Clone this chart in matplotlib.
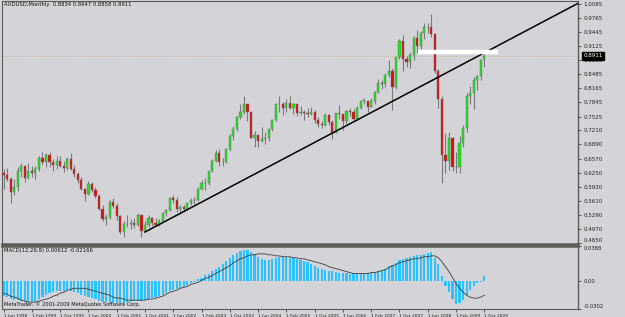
import numpy as np
import pandas as pd
import matplotlib.pyplot as plt

# AUDUSD monthly, Jun 1998 .. Oct 2009
months = pd.period_range("1998-06", "2009-10", freq="M")

opens = [0.6235, 0.6200, 0.6105, 0.5820, 0.5930, 0.6290, 0.6400,
         0.6130, 0.6290, 0.6250, 0.6330, 0.6580, 0.6500, 0.6640, 0.6490, 0.6420, 0.6520, 0.6410, 0.6350,
         0.6560, 0.6330, 0.6210, 0.6080, 0.5870, 0.5770, 0.5990, 0.5850, 0.5720, 0.5430, 0.5200, 0.5250,
         0.5580, 0.5490, 0.5260, 0.4890, 0.5080, 0.5090, 0.5100, 0.5060, 0.5290, 0.4930, 0.5070, 0.5210,
         0.5110, 0.5070, 0.5150, 0.5330, 0.5400, 0.5670, 0.5630, 0.5420, 0.5460, 0.5420, 0.5560, 0.5620,
         0.5630, 0.5880, 0.6010, 0.6020, 0.6280, 0.6520, 0.6700, 0.6500, 0.6490, 0.6790, 0.7080, 0.7250,
         0.7520, 0.7620, 0.7810, 0.7630, 0.7040, 0.7100, 0.6980, 0.7020, 0.7040, 0.7240, 0.7450, 0.7820,
         0.7800, 0.7720, 0.7840, 0.7720, 0.7800, 0.7600, 0.7630, 0.7600, 0.7590, 0.7630, 0.7440, 0.7360,
         0.7330, 0.7560, 0.7410, 0.7160, 0.7600, 0.7580, 0.7420, 0.7660, 0.7640, 0.7460, 0.7730, 0.7880,
         0.7890, 0.7750, 0.7880, 0.8090, 0.8290, 0.8260, 0.8480, 0.8560, 0.8190, 0.8870, 0.9250, 0.8840,
         0.8770, 0.8920, 0.9320, 0.9130, 0.9430, 0.9560, 0.9570, 0.9410, 0.8570, 0.7920, 0.6650, 0.6520,
         0.7030, 0.6370, 0.6380, 0.6920, 0.7260, 0.8000, 0.8060, 0.8360, 0.8450, 0.8834]
highs = [0.6330, 0.6345, 0.6140, 0.6100, 0.6380, 0.6460, 0.6420,
         0.6470, 0.6400, 0.6400, 0.6630, 0.6710, 0.6700, 0.6710, 0.6560, 0.6630, 0.6620, 0.6510, 0.6600,
         0.6690, 0.6430, 0.6260, 0.6140, 0.5910, 0.6050, 0.6030, 0.5930, 0.5770, 0.5520, 0.5300, 0.5620,
         0.5680, 0.5570, 0.5290, 0.5140, 0.5280, 0.5200, 0.5210, 0.5340, 0.5300, 0.5150, 0.5280, 0.5230,
         0.5220, 0.5190, 0.5350, 0.5420, 0.5690, 0.5750, 0.5700, 0.5520, 0.5520, 0.5580, 0.5680, 0.5700,
         0.5920, 0.6090, 0.6120, 0.6290, 0.6560, 0.6770, 0.6780, 0.6580, 0.6810, 0.7120, 0.7310, 0.7540,
         0.7800, 0.8000, 0.7820, 0.7650, 0.7200, 0.7110, 0.7290, 0.7170, 0.7250, 0.7480, 0.7830, 0.7990,
         0.7850, 0.7920, 0.7990, 0.7840, 0.7820, 0.7760, 0.7670, 0.7720, 0.7750, 0.7670, 0.7510, 0.7420,
         0.7610, 0.7580, 0.7440, 0.7610, 0.7790, 0.7590, 0.7680, 0.7720, 0.7690, 0.7760, 0.7900, 0.7940,
         0.7910, 0.7950, 0.8110, 0.8380, 0.8350, 0.8510, 0.8800, 0.8640, 0.8880, 0.9290, 0.9380, 0.8900,
         0.8990, 0.9350, 0.9500, 0.9480, 0.9650, 0.9660, 0.9850, 0.9420, 0.8600, 0.8000, 0.7140, 0.7170,
         0.7070, 0.6720, 0.7090, 0.7330, 0.8060, 0.8210, 0.8430, 0.8460, 0.8830, 0.8947]
lows = [0.5870, 0.6050, 0.5550, 0.5730, 0.5840, 0.6150, 0.6030,
        0.6110, 0.6160, 0.6100, 0.6290, 0.6420, 0.6370, 0.6380, 0.6290, 0.6340, 0.6380, 0.6270, 0.6310,
        0.6300, 0.6140, 0.6020, 0.5850, 0.5600, 0.5750, 0.5800, 0.5670, 0.5390, 0.5150, 0.5070, 0.5200,
        0.5450, 0.5180, 0.4850, 0.4775, 0.5010, 0.4970, 0.4980, 0.5040, 0.4776, 0.4900, 0.5020, 0.5030,
        0.5040, 0.5040, 0.5140, 0.5260, 0.5370, 0.5560, 0.5360, 0.5320, 0.5360, 0.5410, 0.5520, 0.5530,
        0.5600, 0.5850, 0.5860, 0.5980, 0.6260, 0.6500, 0.6400, 0.6400, 0.6470, 0.6750, 0.7000, 0.7200,
        0.7460, 0.7580, 0.7420, 0.7030, 0.6830, 0.6830, 0.6950, 0.6900, 0.6960, 0.7200, 0.7420, 0.7640,
        0.7560, 0.7620, 0.7690, 0.7590, 0.7530, 0.7550, 0.7450, 0.7510, 0.7550, 0.7390, 0.7290, 0.7260,
        0.7320, 0.7340, 0.7020, 0.7140, 0.7470, 0.7210, 0.7360, 0.7540, 0.7440, 0.7450, 0.7700, 0.7800,
        0.7620, 0.7750, 0.7810, 0.8050, 0.8150, 0.8190, 0.8420, 0.7670, 0.8150, 0.8830, 0.8550, 0.8650,
        0.8640, 0.8820, 0.8980, 0.9070, 0.9300, 0.9430, 0.9340, 0.8520, 0.7710, 0.6010, 0.6250, 0.6300,
        0.6280, 0.6250, 0.6250, 0.6830, 0.7180, 0.7810, 0.7700, 0.8130, 0.8360, 0.8658]
closes = [0.6200, 0.6105, 0.5820, 0.5930, 0.6290, 0.6400, 0.6130,
          0.6290, 0.6250, 0.6330, 0.6580, 0.6500, 0.6640, 0.6490, 0.6420, 0.6520, 0.6410, 0.6350, 0.6560,
          0.6330, 0.6210, 0.6080, 0.5870, 0.5770, 0.5990, 0.5850, 0.5720, 0.5430, 0.5200, 0.5250, 0.5580,
          0.5490, 0.5260, 0.4890, 0.5080, 0.5090, 0.5100, 0.5060, 0.5290, 0.4930, 0.5070, 0.5210, 0.5110,
          0.5070, 0.5150, 0.5330, 0.5400, 0.5670, 0.5630, 0.5420, 0.5460, 0.5420, 0.5560, 0.5620, 0.5630,
          0.5880, 0.6010, 0.6020, 0.6280, 0.6520, 0.6700, 0.6500, 0.6490, 0.6790, 0.7080, 0.7250, 0.7520,
          0.7620, 0.7810, 0.7630, 0.7040, 0.7100, 0.6980, 0.7020, 0.7040, 0.7240, 0.7450, 0.7820, 0.7800,
          0.7720, 0.7840, 0.7720, 0.7800, 0.7600, 0.7630, 0.7600, 0.7590, 0.7630, 0.7440, 0.7360, 0.7330,
          0.7560, 0.7410, 0.7160, 0.7600, 0.7580, 0.7420, 0.7660, 0.7640, 0.7460, 0.7730, 0.7880, 0.7890,
          0.7750, 0.7880, 0.8090, 0.8290, 0.8260, 0.8480, 0.8560, 0.8190, 0.8870, 0.9250, 0.8840, 0.8770,
          0.8920, 0.9320, 0.9130, 0.9430, 0.9560, 0.9570, 0.9410, 0.8570, 0.7920, 0.6650, 0.6520, 0.7030,
          0.6370, 0.6380, 0.6920, 0.7260, 0.8000, 0.8060, 0.8360, 0.8450, 0.8820, 0.8911]

# MACD(12,26,9): main (histogram) and signal
macd_main = [-0.0162, -0.0172, -0.0194, -0.0205, -0.0205, -0.0216, -0.0226, -0.0226, -0.0226, -0.0216,
             -0.0194, -0.0172, -0.0151, -0.0129, -0.0119, -0.0108, -0.0108, -0.0108, -0.0097, -0.0108,
             -0.0119, -0.0129, -0.0151, -0.0162, -0.0172, -0.0183, -0.0194, -0.0216, -0.0226, -0.0226,
             -0.0226, -0.0237, -0.0237, -0.0237, -0.0237, -0.0226, -0.0226, -0.0216, -0.0216, -0.0216,
             -0.0205, -0.0194, -0.0183, -0.0172, -0.0162, -0.0151, -0.0129, -0.0108, -0.0097, -0.0086,
             -0.0075, -0.0065, -0.0043, -0.0022, -0.0005, 0.0022, 0.0043, 0.0065, 0.0086, 0.0119,
             0.0140, 0.0162, 0.0194, 0.0226, 0.0259, 0.0291, 0.0313, 0.0334, 0.0345, 0.0345,
             0.0323, 0.0302, 0.0270, 0.0248, 0.0237, 0.0237, 0.0248, 0.0259, 0.0270, 0.0270,
             0.0270, 0.0259, 0.0259, 0.0248, 0.0237, 0.0226, 0.0216, 0.0194, 0.0172, 0.0151,
             0.0140, 0.0129, 0.0119, 0.0119, 0.0108, 0.0097, 0.0097, 0.0097, 0.0086, 0.0086,
             0.0086, 0.0086, 0.0086, 0.0097, 0.0097, 0.0108, 0.0119, 0.0129, 0.0140, 0.0172,
             0.0183, 0.0205, 0.0237, 0.0248, 0.0259, 0.0270, 0.0280, 0.0291, 0.0291, 0.0302,
             0.0313, 0.0323, 0.0259, 0.0194, 0.0054, -0.0054, -0.0119, -0.0194, -0.0248, -0.0237,
             -0.0205, -0.0151, -0.0097, -0.0054, -0.0022, -0.0011, 0.0061]
macd_signal = [-0.0129, -0.0140, -0.0162, -0.0172, -0.0183, -0.0205, -0.0216, -0.0226, -0.0226, -0.0226,
               -0.0216, -0.0205, -0.0194, -0.0183, -0.0162, -0.0151, -0.0129, -0.0119, -0.0097, -0.0086,
               -0.0075, -0.0075, -0.0075, -0.0075, -0.0086, -0.0097, -0.0108, -0.0119, -0.0129, -0.0140,
               -0.0151, -0.0172, -0.0183, -0.0183, -0.0194, -0.0205, -0.0205, -0.0205, -0.0205, -0.0205,
               -0.0205, -0.0194, -0.0194, -0.0183, -0.0172, -0.0162, -0.0140, -0.0119, -0.0108, -0.0097,
               -0.0075, -0.0065, -0.0054, -0.0032, -0.0022, -0.0011, 0.0011, 0.0032, 0.0043, 0.0065,
               0.0086, 0.0108, 0.0129, 0.0151, 0.0172, 0.0205, 0.0226, 0.0248, 0.0259, 0.0280,
               0.0291, 0.0291, 0.0302, 0.0302, 0.0302, 0.0291, 0.0291, 0.0280, 0.0280, 0.0270,
               0.0270, 0.0270, 0.0259, 0.0259, 0.0248, 0.0248, 0.0237, 0.0226, 0.0216, 0.0205,
               0.0194, 0.0183, 0.0162, 0.0151, 0.0140, 0.0129, 0.0119, 0.0108, 0.0097, 0.0086,
               0.0086, 0.0086, 0.0086, 0.0086, 0.0097, 0.0097, 0.0108, 0.0119, 0.0129, 0.0151,
               0.0172, 0.0183, 0.0205, 0.0216, 0.0226, 0.0237, 0.0248, 0.0248, 0.0259, 0.0270,
               0.0270, 0.0280, 0.0280, 0.0259, 0.0216, 0.0162, 0.0108, 0.0043, -0.0022, -0.0075,
               -0.0119, -0.0151, -0.0172, -0.0183, -0.0183, -0.0172, -0.0151]

price_ticks = [1.0085, 0.9765, 0.9445, 0.9125, 0.8805, 0.8485, 0.8165, 0.7845, 0.7525,
               0.7210, 0.6890, 0.6570, 0.6250, 0.5930, 0.5610, 0.5290, 0.4970, 0.4650]
macd_ticks = [0.0388, 0.0, -0.0302]
macd_tick_labels = ["0.0388", "0.00", "-0.0302"]
date_step = 8

trend_start = (40, 0.4900)
trend_end = (136, 0.8975)
white_level = 0.8995
white_span = (117.3, 140.0)
last_price = closes[-1]

bg = "#d4d4d8"
bull = "#1ee61e"
bear = "#d81010"
wick = "#7a7a7a"
frame = "#5a5a5a"

plt.rcParams["font.family"] = ["DejaVu Sans"]
fig = plt.figure(figsize=(6.25, 3.17), dpi=100, facecolor=bg)
W, H = 625, 317
ax = fig.add_axes([2 / W, (H - 244) / H, 576 / W, 243 / H], facecolor=bg)
axm = fig.add_axes([2 / W, (H - 309) / H, 576 / W, 63 / H], facecolor=bg, sharex=ax)

idx = np.arange(len(closes))
o = np.array(opens)
c = np.array(closes)
up = c >= o

# candles
ax.vlines(idx, lows, highs, color=wick, lw=0.8, zorder=2)
body_lo = np.minimum(o, c)
body_h = np.maximum(np.abs(c - o), 0.0012)
ax.bar(idx[up], body_h[up], bottom=body_lo[up], width=0.62, color=bull,
       edgecolor="#6a6a6a", linewidth=0.3, zorder=3)
ax.bar(idx[~up], body_h[~up], bottom=body_lo[~up], width=0.62, color=bear,
       edgecolor="#6a6a6a", linewidth=0.3, zorder=3)

# trend line (ray to the right)
slope = (trend_end[1] - trend_start[1]) / (trend_end[0] - trend_start[0])
xr = np.array([trend_start[0], 180])
ax.plot(xr, trend_start[1] + slope * (xr - trend_start[0]), color="black", lw=1.1, zorder=4)

# white horizontal marker and bid line
ax.hlines(white_level, *white_span, color="white", lw=3.2, zorder=4)
ax.axhline(last_price, color="#c8b89a", lw=0.6, ls=(0, (1, 1.5)), zorder=1)

ax.set_xlim(-0.45, 162.5)
ax.set_ylim(0.4627, 1.0153)
ax.yaxis.tick_right()
ax.set_yticks(price_ticks)
ax.set_yticklabels([f"{t:.4f}" for t in price_ticks])
ax.tick_params(axis="y", labelsize=4, length=2, pad=2, colors="#222222", width=0.5)
ax.get_yticklabels()[-1].set_va("bottom")
ax.tick_params(axis="x", bottom=False, labelbottom=False)
ax.annotate(f"{last_price:.4f}", xy=(1.0, last_price), xycoords=("axes fraction", "data"),
            xytext=(4, 0), textcoords="offset points", fontsize=4, color="white",
            va="center", ha="left",
            bbox=dict(boxstyle="square,pad=0.25", fc="black", ec="black"))
ax.text(0.003, 0.995, "AUDUSD,Monthly  0.8834 0.8947 0.8858 0.8911", transform=ax.transAxes,
        fontsize=3.8, va="top", ha="left", color="#111111")

# MACD panel
cols = "#29c4ff"
axm.bar(idx, macd_main, width=0.62, color=cols, zorder=2)
axm.plot(idx, macd_signal, color="#3c3c3c", lw=0.6, zorder=3)
axm.set_ylim(-0.0302, 0.0388)
axm.yaxis.tick_right()
axm.set_yticks(macd_ticks)
axm.set_yticklabels(macd_tick_labels)
axm.tick_params(axis="y", labelsize=3.8, length=2, pad=2, colors="#222222", width=0.5)
ylabs = axm.get_yticklabels()
ylabs[0].set_va("top")
ylabs[-1].set_va("bottom")
axm.text(0.003, 0.97, "MACD(12,26,9) 0.00612 -0.02166", transform=axm.transAxes,
         fontsize=3.8, va="top", ha="left", color="#111111")
axm.text(0.003, 0.03, "MetaTrader, \u00a9 2001-2009 MetaQuotes Software Corp.",
         transform=axm.transAxes, fontsize=3.6, va="bottom", ha="left", color="#111111")

tick_pos = idx[::date_step]
axm.set_xticks(tick_pos)
axm.set_xticklabels([f"1 {m.strftime('%b %Y')}" for m in months[::date_step]])
axm.tick_params(axis="x", labelsize=3.2, length=2.5, pad=0.8, colors="#222222", width=0.5)
for lbl in axm.get_xticklabels():
    lbl.set_ha("left")

for a in (ax, axm):
    for s in a.spines.values():
        s.set_color(frame)
        s.set_linewidth(0.8)
    a.spines["right"].set_linewidth(1.0)
ax.spines["bottom"].set_linewidth(1.8)
axm.spines["top"].set_linewidth(1.8)

fig.savefig("out.png", dpi=100, facecolor=bg)
